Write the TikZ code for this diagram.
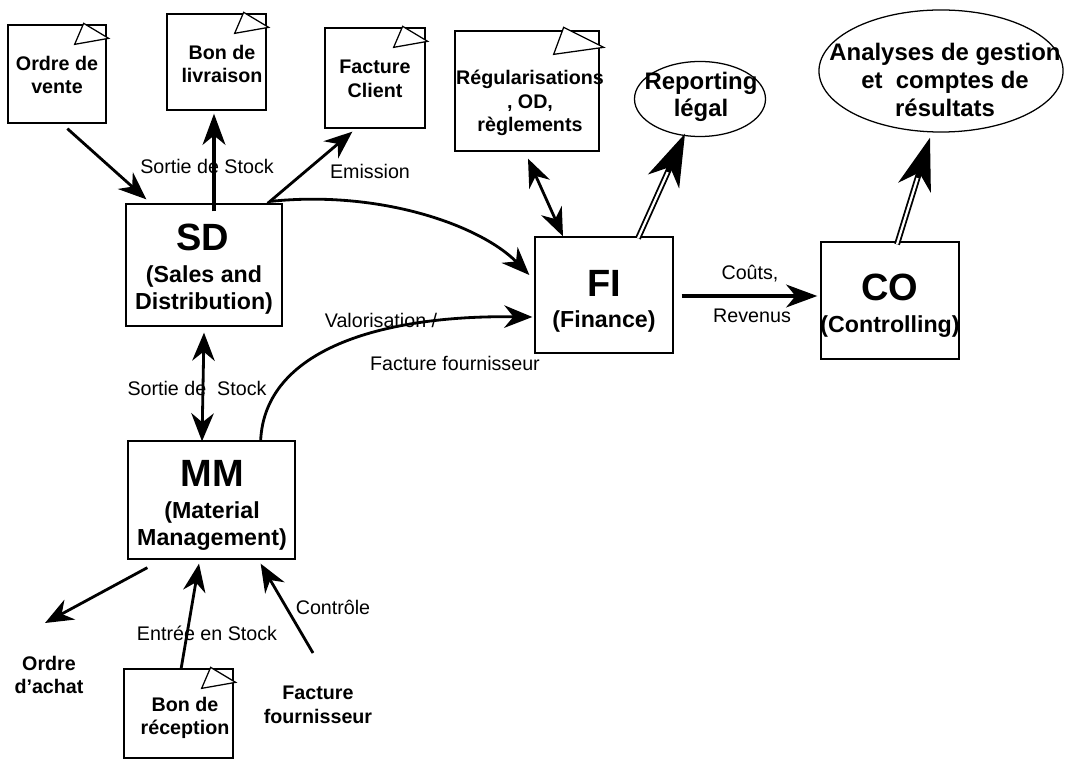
\documentclass[tikz,border=0pt]{standalone}
\usepackage{fontspec}
\setmainfont{Liberation Sans}
\usepackage{xcolor}
\definecolor{cInk}{HTML}{000000}
\usepackage{tikz}
\usetikzlibrary{positioning,arrows.meta,shapes.geometric}
\tikzset{
  doc-box/.style={draw=cInk,line width=0.9pt,inner sep=0pt},
  mod-box/.style={draw=cInk,line width=0.9pt,inner sep=0pt},
  goal-ell/.style={draw=cInk,line width=0.9pt,ellipse,inner sep=0pt},
  dog-ear/.style={draw=cInk,line width=0.9pt,fill=white},
  doc-text/.style={align=center,inner sep=0pt,font=\bfseries\fontsize{14}{16.8}\selectfont},
  mod-title/.style={inner sep=0pt,font=\bfseries\fontsize{27}{30}\selectfont},
  mod-sub/.style={align=center,inner sep=0pt,font=\bfseries\fontsize{16.5}{19.2}\selectfont},
  goal-text/.style={align=center,inner sep=0pt,font=\bfseries\fontsize{17}{19.6}\selectfont},
  edge-lbl/.style={inner sep=0pt,text=cInk,font=\fontsize{14}{16.8}\selectfont},
  arrow/.style={-{Stealth[length=20pt,width=16pt,inset=6.5pt]},line width=2pt,draw=cInk},
  arrow-heavy/.style={-{Stealth[length=22pt,width=16pt,inset=6.5pt]},line width=3.5pt,draw=cInk},
  arrow-both/.style={{Stealth[length=20pt,width=16pt,inset=6.5pt]}-{Stealth[length=20pt,width=16pt,inset=6.5pt]},
    line width=2pt,draw=cInk},
  % trait double : trait noir epais + trait blanc par-dessus
  arrow-double/.style={-{Stealth[length=37pt,width=24pt,inset=11pt]},line width=4.2pt,draw=cInk,
    postaction={draw=white,line width=1.6pt,-,shorten >=30pt}},
}

\begin{document}
\begin{tikzpicture}[x=0.025cm,y=-0.025cm]
  \useasboundingbox (0,0) rectangle (1065,760);
  % documents
  \node[doc-box,minimum width=2.45cm,minimum height=2.45cm] (ov) at (57,74) {};
  \node[doc-box,minimum width=2.475cm,minimum height=2.4cm] (bl) at (216.5,62) {};
  \node[doc-box,minimum width=2.5cm,minimum height=2.5cm] (fc) at (375,78) {};
  \node[doc-box,minimum width=3.6cm,minimum height=3cm] (reg) at (527,91) {};
  \node[doc-box,minimum width=2.725cm,minimum height=2.225cm] (br) at (178.5,713.5) {};
  \foreach \b in {ov,bl,fc,br}
    \draw[dog-ear] ([shift={(-32,20)}]\b.north east) -- ++(9,-21) -- ++(25,15) -- cycle;
  \draw[dog-ear] ([shift={(-46,24)}]reg.north east) -- ++(10,-27) -- ++(40,20) -- cycle;
  \node[doc-text] (ov-txt) at (57,75) {Ordre de\\vente};
  \node[doc-text] (bl-txt) at (222,64) {Bon de\\livraison};
  \node[doc-text] (fc-txt) at (375,79) {Facture\\Client};
  \node[doc-text] (reg-txt) at (530,103) {Régularisations\\, OD,\\règlements};
  \node[doc-text] (br-txt) at (185,718) {Bon de\\réception};
  \node[doc-text] (oa) at (49,675) {Ordre\\d’achat};
  \node[doc-text] (ff) at (318,705) {Facture\\fournisseur};

  % modules
  \node[mod-box,minimum width=3.9cm,minimum height=3.05cm] (sd) at (204,265) {};
  \node[mod-box,minimum width=4.175cm,minimum height=2.95cm] (mm) at (211.5,500) {};
  \node[mod-box,minimum width=3.45cm,minimum height=2.9cm] (fi) at (604,295) {};
  \node[mod-box,minimum width=3.45cm,minimum height=2.925cm] (co) at (890,300.5) {};
  \node[mod-title] (sd-ttl) at (203,237) {SD};
  \node[mod-sub] (sd-sub) at (204,290.5) {(Sales and\\Distribution)};
  \node[mod-title] (mm-ttl) at (212,473) {MM};
  \node[mod-sub] (mm-sub) at (212,526) {(Material\\Management)};
  \node[mod-title] (fi-ttl) at (604,283) {FI};
  \node[mod-sub] (fi-sub) at (604,322) {(Finance)};
  \node[mod-title] (co-ttl) at (890,287) {CO};
  \node[mod-sub] (co-sub) at (890,327) {(Controlling)};

  % reporting
  \node[goal-ell,minimum width=3.275cm,minimum height=1.875cm] (rep) at (700,99) {};
  \node[goal-text] (rep-txt) at (701,97) {Reporting\\légal};
  \node[goal-ell,minimum width=6.1cm,minimum height=3.05cm] (ana) at (941,71) {};
  \node[goal-text] (ana-txt) at (945,80) {Analyses de gestion\\et\ \ comptes de\\résultats};

  % labels
  \node[edge-lbl] (l-sortie) at (207,166) {Sortie de Stock};
  \node[edge-lbl] (l-emis) at (370,171) {Emission};
  \node[edge-lbl] (l-valo) at (381,320) {Valorisation /};
  \node[edge-lbl] (l-ffour) at (455,363) {Facture fournisseur};
  \node[edge-lbl] (l-couts) at (750,274) {Coûts,};
  \node[edge-lbl] (l-rev) at (752,316) {Revenus};
  \node[edge-lbl] (l-sortie2) at (197,388) {Sortie de\ \ Stock};
  \node[edge-lbl] (l-entree) at (207,633) {Entrée en Stock};
  \node[edge-lbl] (l-ctrl) at (333,607) {Contrôle};

  % flows
  \draw[arrow] ([shift={(60,5)}]ov.south west) -- ([shift={(21,-4)}]sd.north west);
  \draw[arrow-heavy] ([shift={(10,8)}]sd.north) -- ([shift={(-2.5,3)}]bl.south);
  \draw[arrow] ([shift={(-15,0)}]sd.north east) -- ([shift={(28,3)}]fc.south west);
  \draw[arrow] ([shift={(-12,-2)}]sd.north east) .. controls (380,190) and (480,225) .. ([shift={(-5,-20)}]fi.west);
  \draw[arrow-both] ([shift={(1,7)}]reg.south) -- ([shift={(-41,0)}]fi.north);
  \draw[arrow-double] ([shift={(34,2)}]fi.north) -- ([shift={(-15,-3.5)}]rep.south);
  \draw[arrow-heavy] ([shift={(8,1)}]fi.east) -- ([shift={(-3,-4.5)}]co.west);
  \draw[arrow-double] ([shift={(7,3)}]co.north) -- ([shift={(-11,5)}]ana.south);
  \draw[arrow-both] ([shift={(0,6)}]sd.south) -- ([shift={(-9.5,1)}]mm.north);
  \draw[arrow] ([shift={(-35,0)}]mm.north east) .. controls (265,350) and (380,315) .. ([shift={(-2,22)}]fi.west);
  \draw[arrow] ([shift={(20,8)}]mm.south west) -- ([shift={(-4,-52)}]oa.center);
  \draw[arrow] ([shift={(2.5,1)}]br.north) -- ([shift={(-12.5,4)}]mm.south);
  \draw[arrow] ([shift={(-5,-52)}]ff.center) -- ([shift={(-35,4)}]mm.south east);
\end{tikzpicture}
\end{document}
